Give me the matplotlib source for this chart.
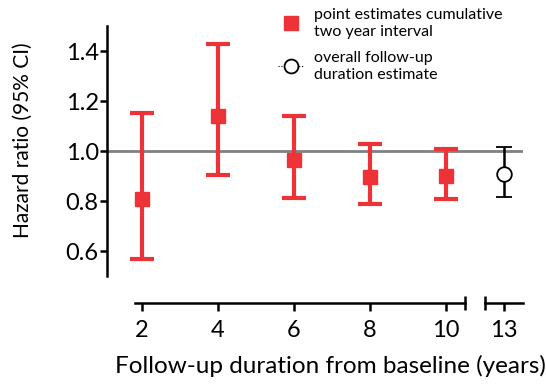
import matplotlib
matplotlib.use("Agg")
import matplotlib.pyplot as plt
from matplotlib.lines import Line2D

plt.rcParams['font.family'] = ['Lato', 'DejaVu Sans']

# Data
years = [2, 4, 6, 8, 10]
hr = [0.81, 1.14, 0.965, 0.895, 0.90]
hr_low = [0.57, 0.905, 0.812, 0.79, 0.808]
hr_high = [1.152, 1.43, 1.14, 1.028, 1.008]

overall_year = [13]
overall_hr = [0.907]
overall_low = [0.818]
overall_high = [1.017]

yticks = [0.6, 0.8, 1.0, 1.2, 1.4]
xticks_main = [2, 4, 6, 8, 10]
xticks_break = [13]

W, H = 546, 386
fig = plt.figure(figsize=(W / 100, H / 100), dpi=100)

def frac(x0, y0, x1, y1):
    return [x0 / W, 1 - y1 / H, (x1 - x0) / W, (y1 - y0) / H]

ax1 = fig.add_axes(frac(107, 26, 475, 276))
ax2 = fig.add_axes(frac(475, 26, 523, 276), sharey=ax1)

red = '#ee3338'
px_per_unit = 38.0
ax1.set_xlim(2 - 35 / px_per_unit, 2 + (475 - 142) / px_per_unit)
ax2.set_xlim(13 - 29 / px_per_unit, 13 + 19 / px_per_unit)
ax1.set_ylim(0.5, 1.5)

for ax in (ax1, ax2):
    ax.axhline(1.0, color='#808080', lw=2, zorder=1)
    for s in ('top', 'right'):
        ax.spines[s].set_visible(False)
    ax.spines['bottom'].set_position(('outward', 19.5))
    ax.spines['bottom'].set_linewidth(1.8)
    ax.patch.set_alpha(0)

yerr_lo = [h - l for h, l in zip(hr, hr_low)]
yerr_hi = [u - h for h, u in zip(hr, hr_high)]
ax1.errorbar(years, hr, yerr=[yerr_lo, yerr_hi], fmt='s', color=red, ms=10,
             elinewidth=3, capsize=8.5, capthick=3, zorder=3)

o_lo = [h - l for h, l in zip(overall_hr, overall_low)]
o_hi = [u - h for h, u in zip(overall_hr, overall_high)]
ax2.errorbar(overall_year, overall_hr, yerr=[o_lo, o_hi], fmt='o', color='black',
             mfc='white', mec='black', ms=10.5, mew=1.3, elinewidth=1.8,
             capsize=6, capthick=1.8, zorder=3)

# y axis
ax1.spines['left'].set_linewidth(1.8)
ax1.spines['left'].set_bounds(0.5, 1.5)
ax1.set_yticks(yticks)
ax1.set_yticklabels([f'{v:.1f}' for v in yticks])
ax1.tick_params(axis='y', length=5, width=1.8, labelsize=17, pad=1)
ax1.set_ylabel('Hazard ratio (95% CI)', fontsize=15)
ax1.yaxis.set_label_coords((33 - 107) / 368, (276 - 140) / 250)

# x axis main
ax1.spines['bottom'].set_bounds(2 - 7 / px_per_unit, 2 + 323 / px_per_unit)
ax1.set_xticks(xticks_main)
ax1.set_xticklabels([str(v) for v in xticks_main])
ax1.set_xticks([2 + 323 / px_per_unit], minor=True)
ax1.tick_params(axis='x', which='minor', direction='inout', length=10, width=1.8)
ax1.tick_params(axis='x', which='major', length=6, width=1.8, labelsize=17, pad=6)

# x axis break part
ax2.spines['left'].set_visible(False)
ax2.tick_params(axis='y', left=False, labelleft=False)
ax2.spines['bottom'].set_bounds(13 - 19 / px_per_unit, 13 + 19 / px_per_unit)
ax2.set_xticks(xticks_break)
ax2.set_xticklabels([str(v) for v in xticks_break])
ax2.set_xticks([13 - 19 / px_per_unit], minor=True)
ax2.tick_params(axis='x', which='minor', direction='inout', length=10, width=1.8)
ax2.tick_params(axis='x', which='major', length=6, width=1.8, labelsize=17, pad=6)

fig.text(330 / W, 1 - 366 / H, 'Follow-up duration from baseline (years)',
         ha='center', va='center', fontsize=17.5)

# legend
handles = [
    Line2D([], [], marker='s', color=red, ls='none', ms=10),
    Line2D([], [], marker='o', color='black', mfc='white', ls=':', lw=0.8, ms=10, mew=1.3),
]
labels = ['point estimates cumulative\ntwo year interval',
          'overall follow-up\nduration estimate']
fig.legend(handles, labels, loc='upper left', bbox_to_anchor=(272 / W, 1 - 2 / H),
           frameon=False, fontsize=11.5, handlelength=1.6, handletextpad=0.6,
           labelspacing=0.8, borderaxespad=0)

fig.savefig('out.png', dpi=100)
